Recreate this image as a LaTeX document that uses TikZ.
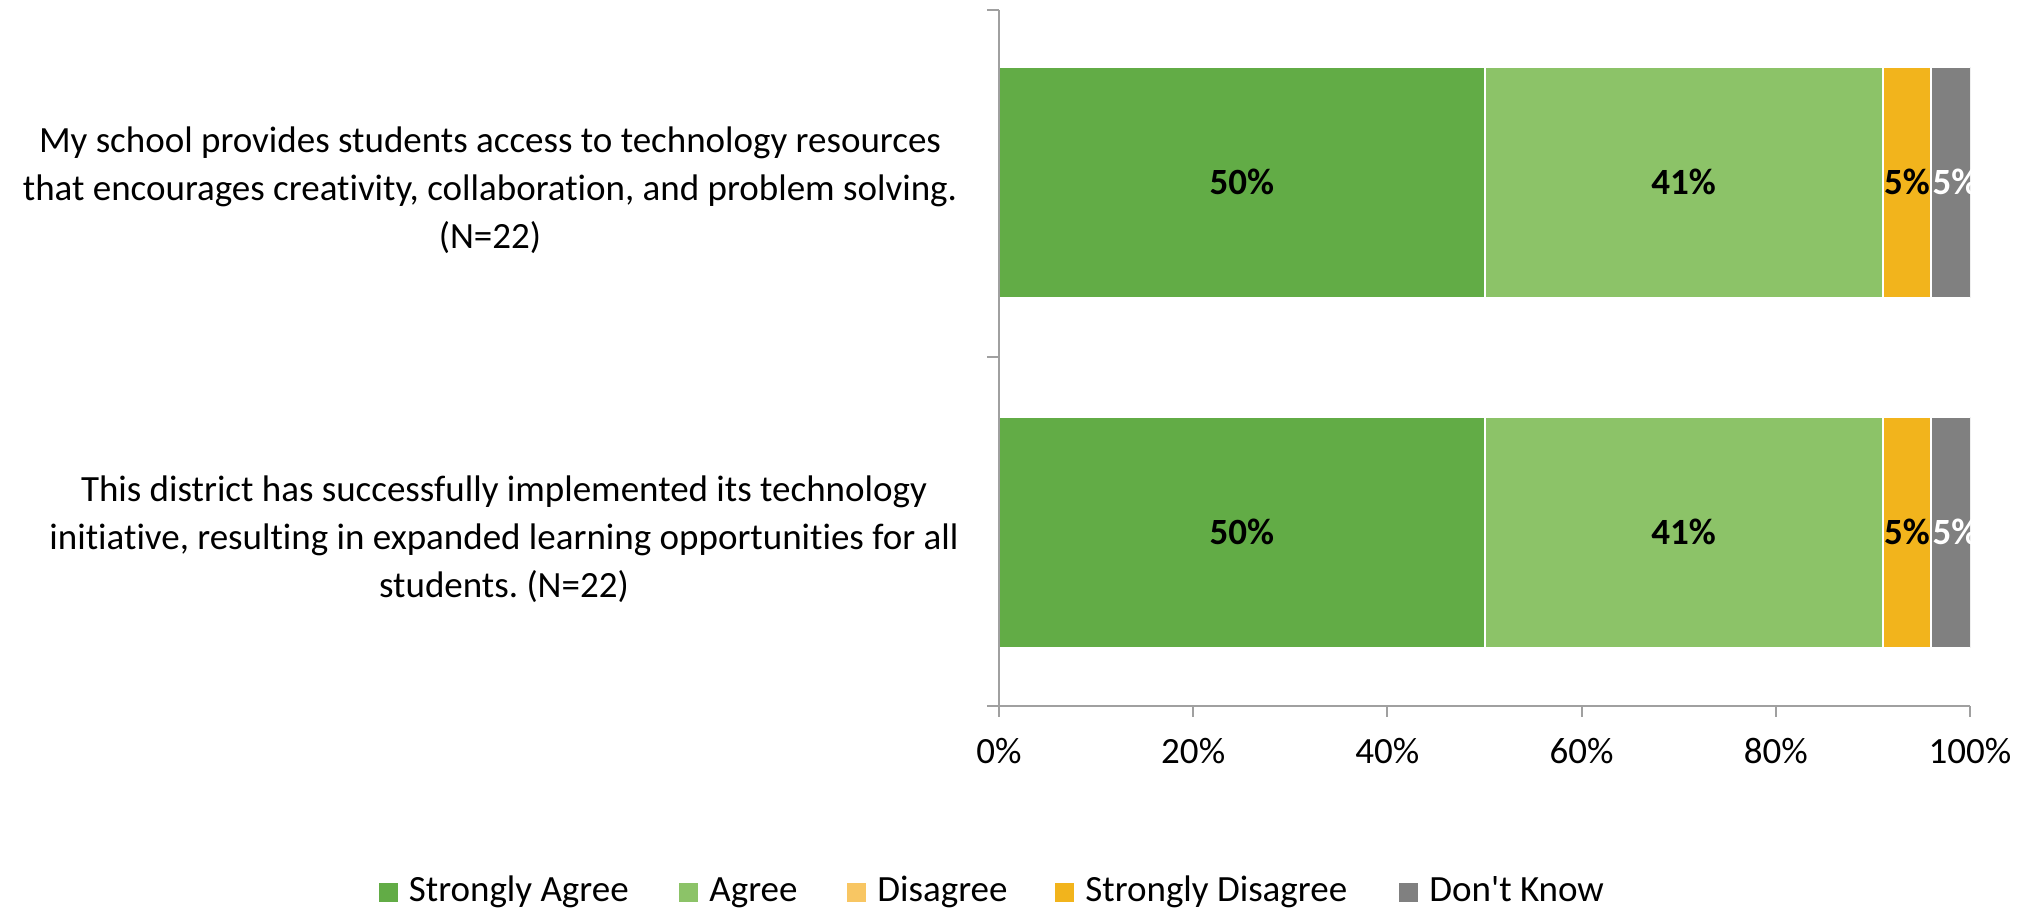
\documentclass[tikz,border=0pt]{standalone}
\usepackage{fontspec}
\setmainfont{Carlito}[Ligatures={NoCommon}]
\usetikzlibrary{positioning}
\definecolor{sagree}{HTML}{62AC46}
\definecolor{agree}{HTML}{8CC368}
\definecolor{disagree}{HTML}{F8C663}
\definecolor{sdisagree}{HTML}{F2B41C}
\definecolor{dontknow}{HTML}{808080}
\definecolor{axisgrey}{HTML}{A0A0A0}
\newcommand{\chartfont}{\fontsize{37}{48}\selectfont}
\frenchspacing
\begin{document}
\begin{tikzpicture}[x=1pt,y=-1pt,
		axis/.style={draw=axisgrey,line width=2pt},
		seg/.style={draw=white,line width=2pt},
		pct/.style={font=\chartfont\bfseries,inner sep=0,anchor=base},
		ticklabel/.style={font=\chartfont,inner sep=0,anchor=base},
		question/.style={font=\chartfont,align=center,inner sep=0},
		key/.style={minimum size=19pt,inner sep=0},
		keylabel/.style={font=\chartfont,inner sep=0,anchor=base west}]
		\useasboundingbox (0,0) rectangle (2028,911);
		\node[question] (q1) at (490,190) {My school provides students access to technology resources\\
			that encourages creativity, collaboration, and problem solving.\\(N=22)};
		\node[question] (q2) at (504,539) {This district has successfully implemented its technology\\
			initiative, resulting in expanded learning opportunities for all\\students. (N=22)};
		\begin{scope}[shift={(999,0)},x=9.71pt]
		\begin{scope}
		\clip (0,0) rectangle (100,911);
		\foreach \y/\r in {67/a,417/b} {
			\fill[seg,fill=sagree] (0,\y) rectangle (50,\y+231);
			\fill[seg,fill=agree] (50,\y) rectangle (91,\y+231);
			\fill[seg,fill=sdisagree] (91,\y) rectangle (96,\y+231);
			\fill[seg,fill=dontknow] (96,\y) rectangle (101,\y+231);
			\node[pct] (sa\r) at (25,\y+127.5) {50\%};
			\node[pct] (ag\r) at (70.5,\y+127.5) {41\%};
			\node[pct] (sd\r) at (93.5,\y+127.5) {5\%};
			\node[pct,white] (dk\r) at (98.5,\y+127.5) {5\%};
		}
		\end{scope}
		\draw[axis] (0,10) -- (0,706) -- (100,706);
		\foreach \y in {10,357,706}
			\draw[axis] (-1.25,\y) -- (0,\y);
		\foreach \x in {0,20,...,100} {
			\draw[axis] (\x,706) -- (\x,717);
			\node[ticklabel] (t\x) at (\x,763) {\x\%};
		}
		\end{scope}
		\foreach \c/\x/\t [count=\i] in {sagree/388/Strongly Agree,agree/688.5/Agree,
				disagree/856.5/Disagree,sdisagree/1064.5/Strongly Disagree,dontknow/1408.5/Don\textquotesingle t Know} {
			\node[key,fill=\c] (key\i) at (\x,892.5) {};
			\node[keylabel] (lab\i) at ([xshift=11pt]key\i.east |- 0,901) {\t};
		}
\end{tikzpicture}
\end{document}
